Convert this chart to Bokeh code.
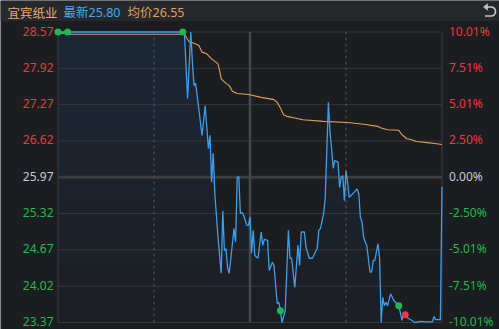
import numpy as np
from bokeh.plotting import figure
from bokeh.models import Range1d
from bokeh.core.properties import value
from bokeh.embed import file_html
from bokeh.resources import INLINE

# ---------------- data ----------------
stock_name = "宜宾纸业"
latest_label = "最新25.80"
avg_label = "均价26.55"
pre_close = 25.97

price_ticks = [28.57, 27.92, 27.27, 26.62, 25.97, 25.32, 24.67, 24.02, 23.37]
price_tick_labels = ["28.57", "27.92", "27.27", "26.62", "25.97", "25.32", "24.67", "24.02", "23.37"]
pct_tick_labels = ["10.01%", "7.51%", "5.01%", "2.50%", "0.00%", "-2.50%", "-5.01%", "-7.51%", "-10.01%"]

session_minutes = [0, 60, 120, 180, 240]

price_minutes = [0, 78, 79, 81, 83, 84, 85, 86, 88, 90, 92, 94, 95, 96, 97, 98, 100, 102, 103, 104,
                 105, 106, 107, 109, 110, 111, 112, 113, 114, 115, 116, 118, 119, 120, 121, 122, 123,
                 125, 127, 128, 129, 131, 132, 134, 135, 137, 138, 139, 140, 142, 144, 145, 146, 148,
                 150, 151, 152, 154, 155, 157, 159, 162, 163, 164, 166, 167, 169, 170, 171, 172, 173,
                 175, 176, 177, 178, 179, 180, 181, 182, 183, 185, 187, 188, 189, 190, 191, 192, 193,
                 195, 196, 197, 198, 200, 201, 202, 203, 204, 205, 206, 207, 208, 210, 212, 213, 215,
                 216, 217, 218, 221, 223, 227, 230, 234, 235, 236, 239, 240]
prices = [28.57, 28.57, 28.57, 27.38, 28.57, 28.03, 27.61, 27.65, 27.20, 26.72, 27.25, 26.48, 26.72,
          25.88, 26.40, 25.68, 24.90, 24.25, 25.37, 24.66,
          24.69, 24.35, 24.25, 24.78, 25.05, 24.81, 25.97, 25.98, 25.32, 25.34, 25.29, 25.11, 25.11,
          25.26, 24.61, 25.02, 24.57,
          24.52, 24.99, 24.75, 24.86, 24.84, 24.30, 24.45, 24.39, 23.71, 23.73, 23.58, 23.37, 23.58,
          25.02, 24.52, 24.52, 24.00,
          24.75, 24.39, 24.99, 24.99, 24.72, 24.52, 24.52, 24.70, 25.02, 25.05, 25.32, 25.59, 27.31,
          26.78, 26.48, 26.13, 26.27,
          26.24, 25.79, 25.97, 26.00, 25.55, 26.09, 25.88, 25.61, 25.64, 25.70, 25.76, 25.67, 25.25,
          25.17, 24.90, 24.81, 24.75,
          24.27, 24.27, 24.48, 24.48, 24.78, 24.52, 23.37, 23.82, 23.67, 23.73, 23.67, 23.79, 23.88,
          23.76, 23.70, 23.67, 23.41,
          23.55, 23.51, 23.46, 23.41, 23.37, 23.39, 23.38, 23.38, 23.48, 23.42, 23.42, 25.80]

avg_minutes = [0, 6, 7, 79, 82, 85, 88, 90, 93, 96, 100, 101, 102, 105, 107, 109, 112, 119, 127,
               135, 137, 139, 141, 143, 148, 153, 166, 181, 191, 200, 202, 206, 213, 215, 218, 220,
               224, 231, 239, 240]
avg_prices = [28.55, 28.55, 28.53, 28.53, 28.39, 28.37, 28.33, 28.21, 28.18, 28.09, 28.00, 27.88,
              27.73, 27.65, 27.61, 27.51, 27.47, 27.45, 27.40,
              27.36, 27.31, 27.21, 27.09, 27.06, 27.03, 27.00, 26.97, 26.95, 26.92, 26.88, 26.85,
              26.82, 26.81, 26.73, 26.66, 26.65,
              26.61, 26.59, 26.56, 26.55]

buy_minutes = [0, 6, 78, 139, 213]
buy_prices = [28.57, 28.57, 28.57, 23.58, 23.67]
sell_minutes = [217]
sell_prices = [23.51]

# ---------------- layout (pixels) ----------------
W, H = 499, 329
FL, FR, FT, FB = 57.5, 441.5, 31.5, 322.0
P_HI, P_LO = price_ticks[0], price_ticks[-1]
M_END = session_minutes[-1]
mpp = M_END / (FR - FL)             # minutes per pixel
ppp = (P_HI - P_LO) / (FB - FT)     # price per pixel


def X(px):
    return (px - FL) * mpp


def Y(py):
    return P_HI - (py - FT) * ppp


BG = "#1c1d21"
HEADER_BG = "#26282c"
GRID = "#35373b"
BLUE = "#3d9eea"
ORANGE = "#e0a052"
RED = "#ea3a3c"
GREEN = "#22b84c"
GRAY = "#c6cad2"
NUM_FONT = value("Noto Sans")
CJK_FONT = value("Noto Sans CJK SC")

p = figure(width=W, height=H, output_backend="svg", toolbar_location=None,
           x_axis_type=None, y_axis_type=None,
           x_range=Range1d(X(0), X(W)), y_range=Range1d(Y(H), Y(0)),
           min_border=0, background_fill_color=BG, border_fill_color=BG)
p.outline_line_color = None
p.xgrid.visible = False
p.ygrid.visible = False

# header bar
p.quad(left=X(0), right=X(W), bottom=Y(20.5), top=Y(0), fill_color=HEADER_BG, line_color=None)

# gradient-like fill under price line
xs = np.array(price_minutes, dtype=float)
ps = np.array(prices, dtype=float)
levels = np.linspace(P_LO, P_HI, 11)[:-1]
for lv in levels:
    p.varea(x=xs, y1=lv, y2=np.maximum(ps, lv), fill_color=BLUE, fill_alpha=0.0105)

# horizontal grid
p.segment(x0=0, x1=M_END, y0=price_ticks, y1=price_ticks, line_color=GRID, line_width=1)
p.segment(x0=0, x1=M_END, y0=pre_close, y1=pre_close, line_color="#3b3d41", line_width=3)

# vertical lines
p.segment(x0=[session_minutes[0], session_minutes[-1]], x1=[session_minutes[0], session_minutes[-1]],
          y0=P_LO, y1=P_HI, line_color="#3d3f43", line_width=1)
p.segment(x0=[session_minutes[1], session_minutes[3]], x1=[session_minutes[1], session_minutes[3]],
          y0=P_LO, y1=P_HI, line_color="#55575c", line_width=1, line_dash="3 3")
p.segment(x0=session_minutes[2], x1=session_minutes[2], y0=P_LO, y1=P_HI,
          line_color="#45474c", line_width=2.5)

# lines
p.line(avg_minutes, avg_prices, line_color=ORANGE, line_width=1.1)
p.line(price_minutes, prices, line_color=BLUE, line_width=1.3)

# markers
p.scatter(buy_minutes, buy_prices, size=7, fill_color=GREEN, line_color=None)
p.scatter(sell_minutes, sell_prices, size=7, fill_color=RED, line_color=None)

# tick labels
def tick_color(v):
    if abs(v - pre_close) < 1e-9:
        return GRAY
    return RED if v > pre_close else GREEN


colors = [tick_color(v) for v in price_ticks]
p.text(x=X(53), y=price_ticks, text=price_tick_labels, text_color=colors, text_font=NUM_FONT,
       text_font_size="12px", text_align="right", text_baseline="middle", y_offset=-1)
p.text(x=X(448.5), y=price_ticks, text=pct_tick_labels, text_color=colors, text_font=NUM_FONT,
       text_font_size="12px", text_align="left", text_baseline="middle", y_offset=-1)

# header texts
hdr_font = value("Noto Sans, Noto Sans CJK SC")
p.text(x=X(7), y=Y(12), text=[stock_name], text_color="#e6ad6c", text_font=CJK_FONT,
       text_font_size="12.5px", text_baseline="middle")
p.text(x=X(63), y=Y(12), text=[latest_label], text_color="#4aa8f0", text_font=hdr_font,
       text_font_size="12.5px", text_baseline="middle")
p.text(x=X(127), y=Y(12), text=[avg_label], text_color="#e0a05a", text_font=hdr_font,
       text_font_size="12.5px", text_baseline="middle")

# return icon (drawn in pixel layout space)
ICON = "#c8c8c8"
th = np.linspace(-np.pi / 2, np.pi / 2, 20)
cx, cy, r = 490.5, 11.0, 4.5
icon_px = [485.5, cx] + list(cx + r * np.cos(th)) + [cx, 484.5]
icon_py = [cy - r, cy - r] + list(cy + r * np.sin(th)) + [cy + r, cy + r]
p.line([X(v) for v in icon_px], [Y(v) for v in icon_py], line_color=ICON, line_width=1.6)
p.patch([X(v) for v in [483.0, 487.0, 487.0]], [Y(v) for v in [cy - r, cy - r - 3.2, cy - r + 3.2]],
        fill_color=ICON, line_color=ICON, line_width=0.5)

open("out.html", "w").write(file_html(p, INLINE))
